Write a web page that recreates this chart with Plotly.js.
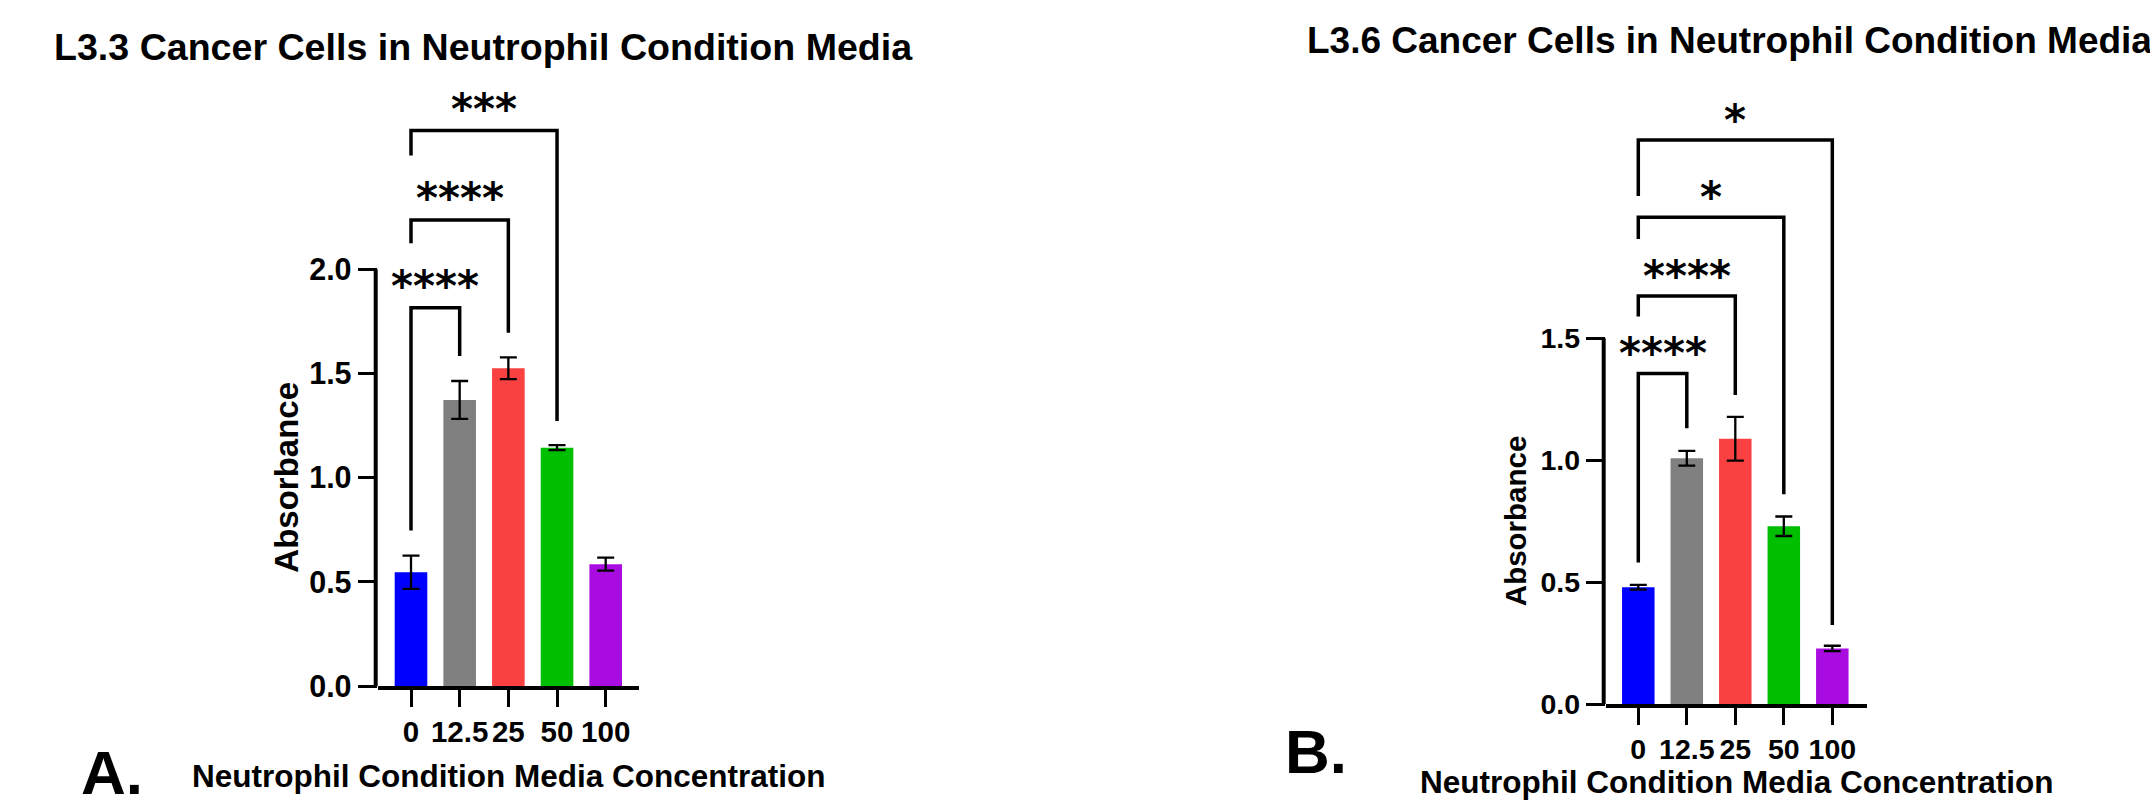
<!DOCTYPE html>
<html>
<head>
<meta charset="utf-8">
<script src="https://cdn.plot.ly/plotly-3.0.1.min.js"></script>
<style>html,body{margin:0;padding:0;background:#fff;}#chart{width:2150px;height:810px;}</style>
</head>
<body>
<div id="chart"></div>
<script>
// ---------- DATA ----------
const categories = ['0', '12.5', '25', '50', '100'];
const barColors = ['#0000FF', '#808080', '#F94141', '#00BE00', '#A90CE1'];

// Panel A: L3.3
const l33Means  = [0.546, 1.373, 1.525, 1.144, 0.585];
const l33Errors = [0.080, 0.091, 0.052, 0.012, 0.031];
const l33SigTarget   = ['12.5', '25', '50'];
const l33SigLabel    = ['****', '****', '***'];
const l33SigTop      = [1.816, 2.237, 2.666];
const l33SigLeftEnd  = [0.746, 2.125, 2.546];
const l33SigRightEnd = [1.584, 1.696, 1.272];
const l33Ticks = [0, 0.5, 1.0, 1.5, 2.0];

// Panel B: L3.6
const l36Means  = [0.479, 1.008, 1.088, 0.729, 0.228];
const l36Errors = [0.010, 0.030, 0.090, 0.040, 0.011];
const l36SigTarget   = ['12.5', '25', '50', '100'];
const l36SigLabel    = ['****', '****', '*', '*'];
const l36SigTop      = [1.356, 1.673, 1.996, 2.313];
const l36SigLeftEnd  = [0.580, 1.589, 1.907, 2.084];
const l36SigRightEnd = [1.131, 1.267, 0.860, 0.324];
const l36Ticks = [0, 0.5, 1.0, 1.5];

const titleA = 'L3.3 Cancer Cells in Neutrophil Condition Media';
const titleB = 'L3.6 Cancer Cells in Neutrophil Condition Media';
const xTitle = 'Neutrophil Condition Media Concentration';
const yTitle = 'Absorbance';

// ---------- LAYOUT HELPERS ----------
const W = 2150, H = 810;
const px = x => x / W;
const py = y => 1 - y / H;
const FONT = 'Liberation Sans, Arial, sans-serif';
const STARFONT = 'DejaVu Sans, sans-serif';

const traces = [];
const annotations = [];
const shapes = [];

function panel(means, errors, sigTarget, sigLabel, sigTop, sigLeft, sigRight, ticks, xa, ya, opts) {
  traces.push({
    type: 'bar', x: categories, y: means, xaxis: xa, yaxis: ya,
    width: 0.67,
    marker: {color: barColors, line: {width: 0}},
    error_y: {type: 'data', array: errors, visible: true, color: '#000', thickness: 2.3, width: 8.5},
    hoverinfo: 'skip', showlegend: false
  });
  const xref = xa, yref = ya;
  for (let i = 0; i < sigTarget.length; i++) {
    traces.push({
      type: 'scatter', mode: 'lines', xaxis: xa, yaxis: ya,
      x: [categories[0], categories[0], sigTarget[i], sigTarget[i]],
      y: [sigLeft[i], sigTop[i], sigTop[i], sigRight[i]],
      line: {color: '#000', width: 3.5}, hoverinfo: 'skip', showlegend: false
    });
    const k = categories.indexOf(sigTarget[i]);
    annotations.push({
      xref: xref, yref: yref, x: k / 2, y: sigTop[i],
      text: sigLabel[i], showarrow: false, xanchor: 'center', yanchor: 'bottom',
      yshift: opts.starShift,
      font: {family: STARFONT, size: opts.starSize, weight: 'bold', color: '#000'}
    });
  }
  // y-axis line (only up to top tick)
  shapes.push({
    type: 'line', xref: xref + ' domain', yref: yref, xsizemode: 'pixel', xanchor: 0,
    x0: -2, x1: -2, y0: 0, y1: ticks[ticks.length - 1],
    line: {color: '#000', width: 4}
  });
  // y title
  annotations.push({
    xref: 'paper', yref: yref, x: px(opts.yTitleX), y: ticks[ticks.length - 1] / 2,
    text: yTitle, textangle: -90, showarrow: false, xanchor: 'center', yanchor: 'middle',
    font: {family: FONT, size: opts.yTitleSize, weight: 'bold', color: '#000'}
  });
}

panel(l33Means, l33Errors, l33SigTarget, l33SigLabel, l33SigTop, l33SigLeftEnd, l33SigRightEnd, l33Ticks,
      'x', 'y', {starShift: -5, starSize: 42, yTitleX: 287, yTitleSize: 33});
panel(l36Means, l36Errors, l36SigTarget, l36SigLabel, l36SigTop, l36SigLeftEnd, l36SigRightEnd, l36Ticks,
      'x2', 'y2', {starShift: -7, starSize: 42, yTitleX: 1515, yTitleSize: 29.5});

// titles, x titles, panel letters
function textAnn(text, x, y, size, xanchor, yanchor) {
  annotations.push({
    xref: 'paper', yref: 'paper', x: px(x), y: py(y), text: text, showarrow: false,
    xanchor: xanchor, yanchor: yanchor,
    font: {family: FONT, size: size, weight: 'bold', color: '#000'}
  });
}
textAnn(titleA, 52, 47, 37.6, 'left', 'middle');
textAnn(titleB, 1305, 40, 37, 'left', 'middle');
textAnn(xTitle, 508.5, 776, 31.5, 'center', 'middle');
textAnn(xTitle, 1736, 782, 31.5, 'center', 'middle');
textAnn('A.', 112, 772, 62, 'center', 'middle');
textAnn('B.', 1316, 751, 62, 'center', 'middle');

function xAxis(domain, range, fontSize) {
  return {
    domain: domain, range: range, type: 'category', categoryorder: 'array', categoryarray: categories,
    showgrid: false, zeroline: false, showline: true, linecolor: '#000', linewidth: 4,
    ticks: 'outside', ticklen: 17, tickwidth: 3, tickcolor: '#000', tickangle: 0,
    tickfont: {family: FONT, size: fontSize, weight: 'bold', color: '#000'},
    fixedrange: true
  };
}
function yAxis(domain, range, ticks, fontSize, anchor) {
  return {
    domain: domain, range: range, anchor: anchor,
    showgrid: false, zeroline: false, showline: false,
    tickmode: 'array', tickvals: ticks, ticktext: ticks.map(v => v.toFixed(1)),
    ticks: 'outside', ticklen: 19, tickwidth: 3, tickcolor: '#000',
    tickfont: {family: FONT, size: fontSize, weight: 'bold', color: '#000'},
    fixedrange: true
  };
}

const layout = {
  width: W, height: H,
  margin: {l: 0, r: 0, t: 0, b: 0, pad: 0},
  paper_bgcolor: '#fff', plot_bgcolor: 'rgba(0,0,0,0)',
  showlegend: false,
  xaxis:  Object.assign(xAxis([px(377.7), px(639)], [-0.684, 4.684], 29.5), {anchor: 'y'}),
  yaxis:  yAxis([py(686), py(61)], [0, 3.0], l33Ticks, 30.5, 'x'),
  xaxis2: Object.assign(xAxis([px(1605.7), px(1866.7)], [-0.672, 4.709], 28.5), {anchor: 'y2'}),
  yaxis2: yAxis([py(704), py(70.1)], [0, 2.6], l36Ticks, 28.5, 'x2'),
  annotations: annotations,
  shapes: shapes
};

Plotly.newPlot('chart', traces, layout, {staticPlot: true, displayModeBar: false});
</script>
</body>
</html>
